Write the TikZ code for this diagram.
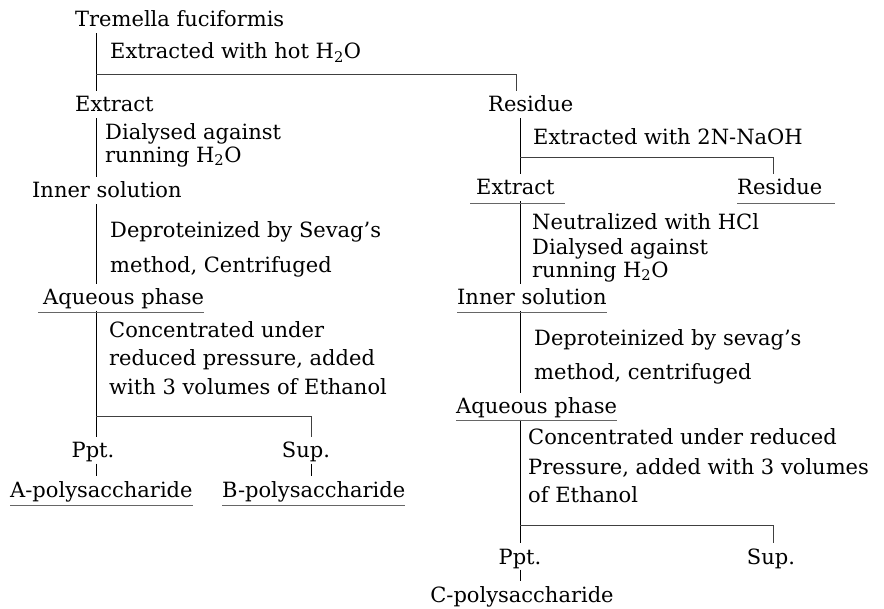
\documentclass[tikz,border=0pt]{standalone}
\usepackage{fontspec}
\setmainfont{DejaVu Serif}
\usetikzlibrary{positioning}
\newcommand{\flowfont}{\fontsize{21}{23}\selectfont}

\begin{document}
\begin{tikzpicture}[x=1pt, y=-1pt,
  item/.style={anchor=base west, inner sep=0pt, font=\flowfont},
  note/.style={anchor=north west, inner sep=0pt, align=left, font=\flowfont},
  bar/.style={line width=0.9pt, shorten <=6pt, shorten >=5pt},
  branch/.style={line width=0.7pt, black!75, shorten >=5pt},
  uline/.style={line width=0.6pt, black!60}
]
\useasboundingbox (0,0) rectangle (884,609);

% columns of the vertical bars
\coordinate (colA) at (96,0);
\coordinate (colB) at (311,0);
\coordinate (colC) at (516,0);
\coordinate (colD) at (520,0);
\coordinate (colE) at (773,0);

% hot water extraction
\node[item] (tf) at (75,27) {Tremella fuciformis};
\node[item] (hot) at (110,59) {Extracted with hot H\textsubscript{2}O};
\node[item] (ex1) at (75,112) {Extract};
\node[note] (dia1) at (105,123) {Dialysed against\\running H\textsubscript{2}O};
\node[item] (in1) at (32,198) {Inner solution};
\node[note] (sev1) at (110,221) {Deproteinized by Sevag's\\[12pt]method, Centrifuged};
\node[item] (aq1) at (43,305) {Aqueous phase};
\node[note] (con1) at (109,321) {Concentrated under\\[5pt]reduced pressure, added\\[6pt]with 3 volumes of Ethanol};
\node[item, anchor=base] (ppa) at (93,458) {Ppt.};
\node[item, anchor=base] (supa) at (306,458) {Sup.};
\node[item] (polya) at (10,497) {A-polysaccharide};
\node[item] (polyb) at (222,497) {B-polysaccharide};

% alkali extraction of the residue
\node[item] (rs1) at (488,112) {Residue};
\node[item] (naoh) at (533,145) {Extracted with 2N-NaOH};
\node[item] (ex2) at (476,195) {Extract};
\node[item] (rs2) at (737,195) {Residue};
\node[note] (neu) at (532,213) {Neutralized with HCl\\[2pt]Dialysed against\\running H\textsubscript{2}O};
\node[item] (in2) at (457,305) {Inner solution};
\node[note] (sev2) at (534,329) {Deproteinized by sevag's\\[11pt]method, centrifuged};
\node[item] (aq2) at (456,414) {Aqueous phase};
\node[note] (con2) at (528,428) {Concentrated under reduced\\[7pt]Pressure, added with 3 volumes\\[5pt]of Ethanol};
\node[item, anchor=base] (ppc) at (520,564) {Ppt.};
\node[item, anchor=base] (supc) at (771,564) {Sup.};
\node[item, anchor=base] (polyc) at (522,602) {C-polysaccharide};

% branch points
\coordinate (jTop) at (96,74);
\coordinate (jA) at (96,416);
\coordinate (jB) at (520,157);
\coordinate (jC) at (520,525);

% left bars
\draw[bar] (tf.south -| colA) -- (ex1.north -| colA);
\draw[bar] (ex1.south -| colA) -- (in1.north -| colA);
\draw[bar] (in1.south -| colA) -- (aq1.north -| colA);
\draw[bar, shorten <=1pt] (aq1.south -| colA) -- (ppa.north -| colA);
\draw[bar, shorten <=1pt] (ppa.south -| colA) -- (polya.north -| colA);
\draw[bar, shorten <=1pt] (supa.south -| colB) -- (polyb.north -| colB);
\draw[branch] (jTop) -- (jTop -| colC) -- (rs1.north -| colC);
\draw[branch] (jA) -- (jA -| colB) -- (supa.north -| colB);

% right bars
\draw[bar] (rs1.south -| colD) -- (ex2.north -| colD);
\draw[bar] (ex2.south -| colD) -- (in2.north -| colD);
\draw[bar] (in2.south -| colD) -- (aq2.north -| colD);
\draw[bar, shorten <=1pt] (aq2.south -| colD) -- (ppc.north -| colD);
\draw[bar, shorten <=1pt] (ppc.south -| colD) -- (polyc.north -| colD);
\draw[branch] (jB) -- (jB -| colE) -- (rs2.north -| colE);
\draw[branch] (jC) -- (jC -| colE) -- (supc.north -| colE);

% underlines
\draw[uline] ([xshift=-5pt, yshift=-7pt]aq1.base west) -- ([yshift=-7pt]aq1.base east);
\draw[uline] ([yshift=-8pt]polya.base west) -- ([yshift=-8pt]polya.base east);
\draw[uline] ([yshift=-8pt]polyb.base west) -- ([yshift=-8pt]polyb.base east);
\draw[uline] ([xshift=-6pt, yshift=-8pt]ex2.base west) -- ([xshift=10pt, yshift=-8pt]ex2.base east);
\draw[uline] ([yshift=-8pt]rs2.base west) -- ([xshift=12pt, yshift=-8pt]rs2.base east);
\draw[uline] ([yshift=-7pt]in2.base west) -- ([yshift=-7pt]in2.base east);
\draw[uline] ([yshift=-6pt]aq2.base west) -- ([yshift=-6pt]aq2.base east);

\end{tikzpicture}
\end{document}
